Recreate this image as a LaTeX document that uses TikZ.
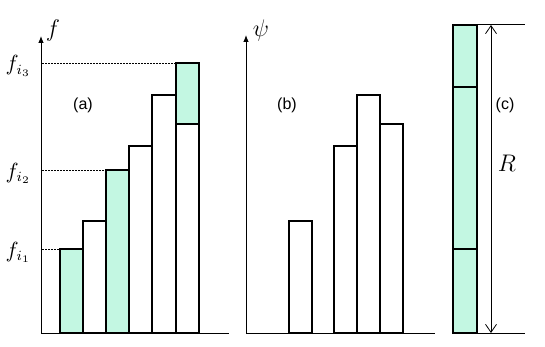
\documentclass[tikz,border=0pt]{standalone}
\usepackage{fontspec}
\newfontfamily\labfont{Liberation Sans}
\usetikzlibrary{arrows.meta}
\definecolor{mint}{HTML}{C3F7E2}
\tikzset{bar/.style={draw=black,line width=1pt}}
\begin{document}
\begin{tikzpicture}[x=0.5pt,y=-0.5pt,
      axis/.style={line width=0.5pt,-{Latex[length=3.5pt,width=2.8pt]}}, guide/.style={line width=0.45pt,dash pattern=on 1pt off 0.5pt},
      tag/.style={font=\labfont\fontsize{8}{9}\selectfont}, sym/.style={font=\fontsize{10.5}{11}\selectfont},
      big/.style={font=\fontsize{11.5}{12}\selectfont}]
    \useasboundingbox (0,0) rectangle (545,347);
    \coordinate (oa) at (41,333); \coordinate (ya) at (41,36); \coordinate (xa) at (229,333);
    \coordinate (ob) at (246,333); \coordinate (yb) at (246,35); \coordinate (xb) at (435,333);
    % panel (a)
    \foreach \xl/\xr/\yt in {83/106/221, 129/152/146, 152/176/95, 176/199/124}
      \draw[bar, fill=white] (\xl,333) rectangle (\xr,\yt);
    \foreach \xl/\xr/\yt/\yb in {60/83/249/333, 106/129/170/333, 176/199/63/124}
      \draw[bar, fill=mint] (\xl,\yb) rectangle (\xr,\yt);
    \draw[guide] (42,63) -- (176,63); \draw[guide] (42,170) -- (106,170); \draw[guide] (42,249) -- (60,249);
    \draw[line width=0.5pt] (oa) -- (xa); \draw[axis] (oa) -- (ya);
    \node[big] (fa) at (53,31) {$f$};
    \node[sym, anchor=base east] (f3) at (38,71) {$f_{i_3}$};
    \node[sym, anchor=base east] (f2) at (38,178) {$f_{i_2}$};
    \node[sym, anchor=base east] (f1) at (38,257) {$f_{i_1}$};
    \node[tag] (la) at (83,105) {(a)};
    % panel (b)
    \foreach \xl/\xr/\yt in {289/312/221, 334/357/146, 357/380/95, 380/403/124}
      \draw[bar, fill=white] (\xl,333) rectangle (\xr,\yt);
    \draw[line width=0.5pt] (ob) -- (xb); \draw[axis] (ob) -- (yb);
    \node[big] (psi) at (261,31) {$\psi$};
    \node[tag] (lb) at (287,105) {(b)};
    % panel (c)
    \foreach \yt/\yb in {25/87, 87/249, 249/333}
      \draw[bar, fill=mint] (453,\yt) rectangle (477,\yb);
    \coordinate (ct) at (491,25); \coordinate (cb) at (491,333);
    \draw[line width=0.5pt] (477,25) -- (525,25); \draw[line width=0.5pt] (477,333) -- (525,333);
    \draw[line width=0.4pt, {Straight Barb[length=4pt,width=5.5pt]}-{Straight Barb[length=4pt,width=5.5pt]}] (ct) -- (cb);
    \node[tag] (lc) at (505,105) {(c)};
    \node[big] (rr) at (507,163) {$R$};
  \end{tikzpicture}
\end{document}
